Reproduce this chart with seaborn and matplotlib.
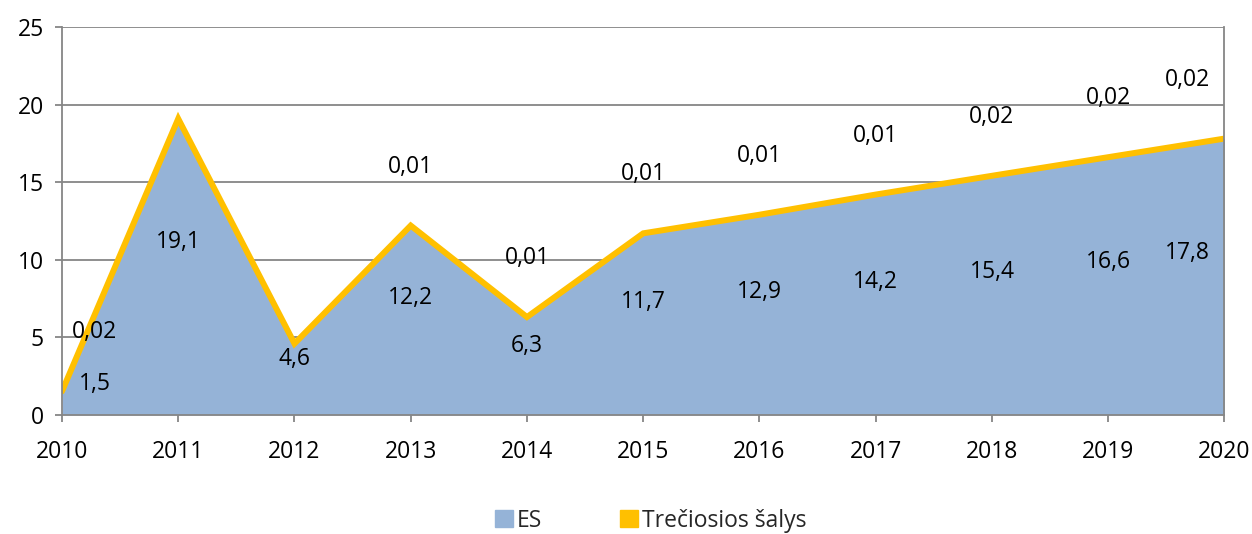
import numpy as np
import pandas as pd
import seaborn as sns
import matplotlib.pyplot as plt
import matplotlib.patches as mpatches

years = [2010, 2011, 2012, 2013, 2014, 2015, 2016, 2017, 2018, 2019, 2020]
es = [1.5, 19.1, 4.6, 12.2, 6.3, 11.7, 12.9, 14.2, 15.4, 16.6, 17.8]
third = [0.02, 0, 0, 0.01, 0.01, 0.01, 0.01, 0.01, 0.02, 0.02, 0.02]
series_names = ['ES', 'Trečiosios šalys']

BLUE = '#95B3D7'
YELLOW = '#FFC000'
GRID = '#868686'
FS = 16.5

sns.set_theme(style='white')
plt.rcParams['font.family'] = ['Open Sans', 'DejaVu Sans']

df = pd.DataFrame({'year': years, 'es': es, 'third': third})
df['total'] = df['es'] + df['third']

fig = plt.figure(figsize=(12.52, 5.34), dpi=100)
ax = fig.add_axes([0.0495, 0.223, 0.9285, 0.726])

ax.stackplot(df['year'], df['es'], df['third'], colors=[BLUE, YELLOW], linewidth=0)
sns.lineplot(data=df, x='year', y='total', color=YELLOW, lw=4.3, ax=ax,
             legend=False, solid_joinstyle='miter')

ax.set_xlim(2010, 2020)
ax.set_ylim(0, 25)
ax.set_xticks(years)
ax.set_yticks(np.arange(0, 26, 5))
ax.yaxis.grid(True, color=GRID, lw=1.3)
ax.set_axisbelow(True)
ax.set_xlabel('')
ax.set_ylabel('')
for s in ['left', 'bottom', 'right']:
    ax.spines[s].set_color(GRID)
    ax.spines[s].set_linewidth(1.3)
ax.spines['top'].set_visible(False)
ax.tick_params(axis='both', colors=GRID, labelcolor='black', labelsize=FS,
               length=5, width=1.3, direction='out')
ax.tick_params(axis='x', pad=13, bottom=True)
ax.tick_params(axis='y', pad=8, left=True)

# data labels (excel style, kept inside the plot area)
for i, (yr, e, t) in enumerate(zip(years, es, third)):
    x = yr
    if i == 0:
        x += 0.28
    elif i == len(years) - 1:
        x -= 0.32
    ax.text(x, 0.52 * e + 1.2, f'{e:.1f}'.replace('.', ','), ha='center',
            va='center', fontsize=FS, color='black')
    if t > 0:
        ax.text(x, e + t + 3.8, f'{t:.2f}'.replace('.', ','), ha='center',
                va='center', fontsize=FS, color='black')

handles = [mpatches.Patch(color=BLUE, label=series_names[0]),
           mpatches.Patch(color=YELLOW, label=series_names[1])]
fig.legend(handles=handles, loc='center', bbox_to_anchor=(0.52, 0.025), ncol=2,
           frameon=False, fontsize=FS, handlelength=0.75, handleheight=0.75,
           handletextpad=0.2, columnspacing=3.4)

fig.savefig('out.png', dpi=100)
